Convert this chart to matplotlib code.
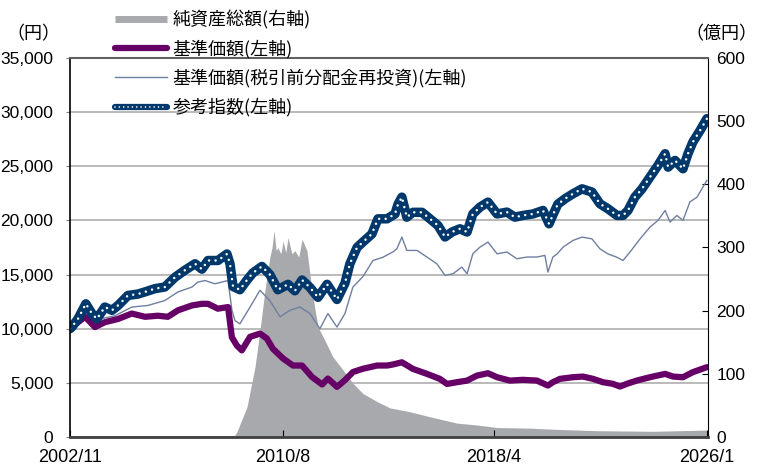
import matplotlib
matplotlib.use('Agg')
import matplotlib.pyplot as plt
from matplotlib.lines import Line2D

plt.rcParams['font.family'] = ['Liberation Sans', 'Noto Sans CJK JP']
jp = ['Noto Sans CJK JP', 'DejaVu Sans']

# 参考指数 (decimal year, value in 円)
idx_t = [2002.83, 2002.90, 2003.12, 2003.41, 2003.63, 2003.81, 2004.10, 2004.36, 2004.58, 2004.94,
         2005.30, 2005.56, 2005.92, 2006.28, 2006.65, 2007.01, 2007.38, 2007.63, 2007.85, 2008.21,
         2008.54, 2008.65, 2008.76, 2009.01, 2009.27, 2009.48, 2009.81, 2010.10, 2010.39, 2010.76,
         2011.01, 2011.27, 2011.56, 2011.85, 2012.18, 2012.54, 2012.83, 2013.01, 2013.27, 2013.48,
         2013.81, 2014.03, 2014.36, 2014.65, 2014.76, 2014.90, 2015.08, 2015.30, 2015.63, 2015.92,
         2016.21, 2016.47, 2016.72, 2017.01, 2017.27, 2017.48, 2017.74, 2018.03, 2018.36, 2018.72,
         2019.01, 2019.30, 2019.67, 2020.03, 2020.25, 2020.39, 2020.57, 2020.83, 2021.12, 2021.45,
         2021.81, 2022.10, 2022.39, 2022.72, 2022.94, 2023.12, 2023.37, 2023.63, 2023.92, 2024.21,
         2024.47, 2024.58, 2024.83, 2025.12, 2025.30, 2025.48, 2025.74, 2025.99]
idx_v = [10000, 10150, 10900, 12300, 11400, 10900, 12000, 11700, 12150, 13070,
         13200, 13400, 13700, 13850, 14750, 15400, 16000, 15500, 16300, 16300,
         16900, 16000, 13900, 13600, 14500, 15150, 15750, 15000, 13600, 14100,
         13500, 14500, 13800, 12900, 14100, 12700, 14200, 16000, 17500, 18000,
         18750, 20150, 20150, 20600, 21500, 22150, 20300, 20750, 20750, 20150,
         19540, 18470, 18930, 19230, 18930, 20600, 21230, 21690, 20600, 20770,
         20300, 20460, 20600, 20920, 19690, 20500, 21500, 22000, 22460, 22920,
         22620, 21540, 21080, 20460, 20460, 20920, 22150, 22920, 24000, 25080,
         26160, 24920, 25540, 24770, 26150, 27240, 28300, 29400]

# 基準価額(税引前分配金再投資)
reinv_t = [2002.83, 2003.12, 2003.38, 2003.74, 2004.10, 2004.47, 2005.08, 2005.67, 2006.28, 2006.76,
           2007.27, 2007.48, 2007.74, 2008.10, 2008.58, 2008.72, 2008.83, 2009.01, 2009.38, 2009.74,
           2010.10, 2010.47, 2010.83, 2011.19, 2011.56, 2011.92, 2012.21, 2012.54, 2012.83, 2013.12,
           2013.48, 2013.85, 2014.21, 2014.58, 2014.72, 2014.90, 2015.08, 2015.45, 2015.81, 2016.17,
           2016.47, 2016.76, 2017.08, 2017.27, 2017.48, 2017.74, 2018.03, 2018.36, 2018.72, 2019.08,
           2019.45, 2019.81, 2020.10, 2020.21, 2020.39, 2020.54, 2020.76, 2021.12, 2021.45, 2021.81,
           2022.10, 2022.39, 2022.72, 2022.94, 2023.19, 2023.56, 2023.92, 2024.21, 2024.47, 2024.65,
           2024.90, 2025.12, 2025.37, 2025.63, 2025.99]
reinv_v = [10000, 10400, 10900, 10750, 11000, 11200, 12000, 12150, 12600, 13400,
           13850, 14300, 14450, 14150, 14450, 11700, 10750, 10450, 12000, 13550,
           12600, 11100, 11700, 12000, 11400, 10000, 11400, 10150, 11400, 13850,
           14800, 16300, 16600, 17100, 17390, 18460, 17230, 17230, 16620, 16000,
           14920, 15080, 15690, 15080, 16920, 17540, 18000, 16920, 17080, 16460,
           16620, 16620, 16770, 15230, 16620, 16900, 17530, 18150, 18460, 18300,
           17380, 16910, 16600, 16300, 17070, 18300, 19380, 20000, 20920, 19850,
           20460, 20000, 21700, 22150, 23700]

# 基準価額
nav_t = [2002.83, 2002.90, 2003.38, 2003.74, 2004.10, 2004.58, 2005.08, 2005.56, 2006.03, 2006.39,
         2006.76, 2007.27, 2007.63, 2007.85, 2008.21, 2008.58, 2008.72, 2008.90, 2009.08, 2009.38,
         2009.74, 2009.99, 2010.21, 2010.58, 2010.94, 2011.27, 2011.63, 2012.00, 2012.21, 2012.54,
         2012.83, 2013.12, 2013.48, 2014.00, 2014.36, 2014.58, 2014.90, 2015.30, 2015.81, 2016.28,
         2016.54, 2016.90, 2017.27, 2017.63, 2018.03, 2018.36, 2018.83, 2019.30, 2019.81, 2020.21,
         2020.39, 2020.65, 2021.12, 2021.48, 2021.85, 2022.21, 2022.57, 2022.83, 2023.08, 2023.45,
         2023.92, 2024.47, 2024.76, 2025.12, 2025.48, 2025.99]
nav_v = [10000, 10150, 11100, 10150, 10600, 10900, 11400, 11100, 11200, 11100,
         11700, 12150, 12300, 12300, 11850, 12000, 9200, 8450, 8000, 9250,
         9550, 9100, 8150, 7250, 6600, 6600, 5550, 4850, 5400, 4630,
         5250, 6000, 6300, 6600, 6600, 6700, 6900, 6290, 5830, 5370,
         4900, 5060, 5210, 5670, 5890, 5520, 5210, 5280, 5210, 4750,
         5060, 5370, 5520, 5580, 5370, 5060, 4910, 4660, 4910, 5220,
         5520, 5830, 5580, 5520, 5990, 6450]

# 純資産総額 (億円)
net_t = [2002.83, 2008.65, 2008.83, 2008.90, 2009.27, 2009.56, 2009.74, 2009.92, 2010.10, 2010.18,
         2010.25, 2010.33, 2010.39, 2010.50, 2010.58, 2010.68, 2010.76, 2010.90, 2011.01, 2011.15,
         2011.27, 2011.45, 2011.63, 2011.85, 2012.10, 2012.39,
         2012.76, 2013.12, 2013.48, 2014.00, 2014.47, 2015.19, 2015.92, 2016.90, 2017.63, 2018.36,
         2019.56, 2020.57, 2022.00, 2024.00, 2025.99]
net_v = [0, 0, 3, 8, 48, 111, 169, 232, 285, 300,
         327, 295, 300, 290, 310, 292, 316, 290, 295, 285,
         313, 295, 232, 174, 153, 127,
         106, 85, 69, 56, 46, 40, 32, 22, 19, 15,
         14, 12, 10, 9, 11]

x_labels = ['2002/11', '2010/8', '2018/4', '2026/1']
left_ticks = [0, 5000, 10000, 15000, 20000, 25000, 30000, 35000]
right_ticks = [0, 100, 200, 300, 400, 500, 600]


def to_year(lbl):
    y, m = lbl.split('/')
    return int(y) + (int(m) - 1) / 12


navy = '#00386B'
purple = '#660066'
slate = '#6F7F9F'
fill_c = '#A8A9AD'

fig = plt.figure(figsize=(7.58, 4.69), dpi=100)
pos = [70 / 758, 1 - 437 / 469, 638 / 758, 379 / 469]
ax1 = fig.add_axes(pos)
ax2 = ax1.twinx()
ax3 = fig.add_axes(pos, sharex=ax1, sharey=ax1)
ax1.set_zorder(1)
ax2.set_zorder(2)
ax3.set_zorder(3)
ax2.patch.set_visible(False)
ax3.patch.set_visible(False)

# left axis: grid + labels
ax1.set_ylim(0, 35000)
ax1.set_yticks(left_ticks)
ax1.set_yticklabels([f'{v:,}' for v in left_ticks])
ax1.yaxis.grid(True, color='#B4B4B4', lw=1.3)
ax1.tick_params(axis='y', direction='out', length=3, pad=9, labelsize=12.5, color='#808080')
ax1.tick_params(axis='x', bottom=False, labelbottom=False)
for s in ax1.spines.values():
    s.set_visible(False)

# right axis: net assets
ax2.fill_between(net_t, 0, net_v, color=fill_c, lw=0)
ax2.set_ylim(0, 600)
ax2.set_yticks(right_ticks)
ax2.tick_params(axis='y', direction='in', length=4, pad=6, labelsize=12.5)
for k, s in ax2.spines.items():
    s.set_visible(k == 'right')
ax2.spines['right'].set_color('black')

# lines
ax3.plot(reinv_t, reinv_v, color=slate, lw=1.0)
ax3.plot(nav_t, nav_v, color=purple, lw=4.5, solid_joinstyle='round', solid_capstyle='round')
ax3.plot(idx_t, idx_v, color=navy, lw=6.8, solid_joinstyle='round', solid_capstyle='round')
ax3.plot(idx_t, idx_v, color='white', lw=1.8, linestyle=(0, (0.01, 2.6)), dash_capstyle='round')

ax3.set_xlim(to_year('2002/11'), 2026.03)
ax3.set_xticks([to_year(l) for l in x_labels])
ax3.set_xticklabels(x_labels)
ax3.tick_params(axis='x', direction='in', length=5, pad=9, labelsize=13)
ax3.tick_params(axis='y', left=False, labelleft=False)
ax3.spines['right'].set_visible(False)
ax3.spines['left'].set_color('black')
ax3.spines['left'].set_linewidth(1.2)
ax3.spines['bottom'].set_color('#404040')
ax3.spines['bottom'].set_linewidth(2)
ax3.spines['top'].set_color('#606060')
ax3.spines['top'].set_linewidth(1.5)

fig.text(33 / 758, 1 - 34 / 469, '（円）', ha='center', va='center', family=jp, size=13)
fig.text(721 / 758, 1 - 34 / 469, '（億円）', ha='center', va='center', family=jp, size=13)

handles = [
    Line2D([], [], color=fill_c, lw=5, solid_capstyle='butt'),
    Line2D([], [], color=purple, lw=4.5, solid_capstyle='round'),
    Line2D([], [], color=slate, lw=1.0),
    (Line2D([], [], color=navy, lw=4.5, solid_capstyle='round'),
     Line2D([], [], color='white', lw=1.2, linestyle=(0, (0.01, 2.6)), dash_capstyle='round')),
]
labels = ['純資産総額(右軸)', '基準価額(左軸)', '基準価額(税引前分配金再投資)(左軸)', '参考指数(左軸)']
fig.legend(handles, labels, loc='upper left', bbox_to_anchor=(115 / 758, 1 - 10 / 469),
           frameon=False, prop={'family': jp, 'size': 13}, handlelength=2.9,
           handletextpad=0.28, labelspacing=0.58, borderpad=0, borderaxespad=0)

fig.savefig('out.png', dpi=100)
